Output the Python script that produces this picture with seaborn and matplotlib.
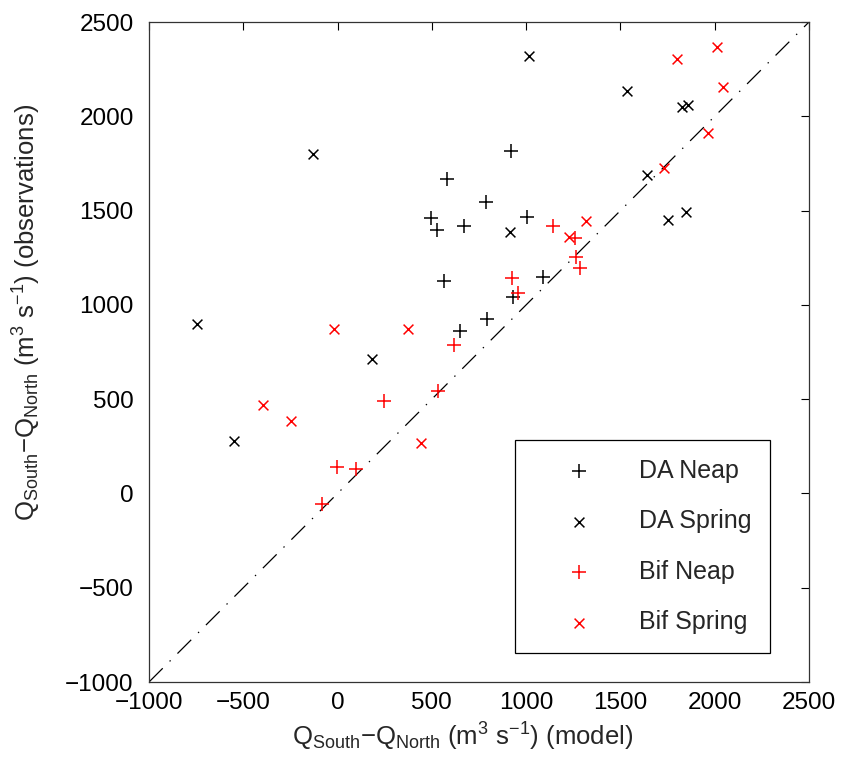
import pandas as pd
import numpy as np

import matplotlib
matplotlib.use("Agg")
import matplotlib.pyplot as plt
import seaborn as sns

# -----------------------------
# 1. DATA
# -----------------------------
da_neap_model = [918, 578, 787, 495, 525, 672, 1003, 566, 1091, 932, 791, 649]
da_neap_obs = [1818, 1666, 1547, 1459, 1397, 1420, 1464, 1128, 1146, 1043, 924, 862]

da_spring_model = [-747, 184, -551, -129, 1016, 914, 1640, 1536, 1824, 1859, 1750, 1847]
da_spring_obs = [897, 711, 277, 1800, 2320, 1385, 1687, 2134, 2051, 2060, 1450, 1491]

bif_neap_model = [-5, 100, -80, 248, 534, 615, 925, 958, 1140, 1259, 1264, 1285]
bif_neap_obs = [138, 127, -57, 492, 545, 788, 1144, 1061, 1420, 1353, 1256, 1197]

bif_spring_model = [-17, 375, -394, -249, 442, 1315, 1227, 2010, 1801, 2045, 1965, 1732]
bif_spring_obs = [871, 871, 469, 384, 266, 1443, 1358, 2369, 2304, 2157, 1910, 1727]

groups = ["DA Neap", "DA Spring", "Bif Neap", "Bif Spring"]
colors = {"DA Neap": "black", "DA Spring": "black", "Bif Neap": "red", "Bif Spring": "red"}
markers = {"DA Neap": "+", "DA Spring": "x", "Bif Neap": "+", "Bif Spring": "x"}

df = pd.concat([
    pd.DataFrame({"model": da_neap_model, "obs": da_neap_obs, "group": "DA Neap"}),
    pd.DataFrame({"model": da_spring_model, "obs": da_spring_obs, "group": "DA Spring"}),
    pd.DataFrame({"model": bif_neap_model, "obs": bif_neap_obs, "group": "Bif Neap"}),
    pd.DataFrame({"model": bif_spring_model, "obs": bif_spring_obs, "group": "Bif Spring"}),
], ignore_index=True)

# -----------------------------
# 2. STYLE
# -----------------------------
sns.set_style("white")
plt.rcParams["font.family"] = ["Liberation Sans", "DejaVu Sans"]
plt.rcParams["mathtext.fontset"] = "custom"
plt.rcParams["mathtext.rm"] = "Liberation Sans"
plt.rcParams["mathtext.it"] = "Liberation Sans:italic"
plt.rcParams["lines.scale_dashes"] = False

fig = plt.figure(figsize=(8.45, 7.64), dpi=100)
ax = fig.add_axes([0.1763, 0.1073, 0.7811, 0.8639])

# -----------------------------
# 3. PLOT
# -----------------------------
ax.axline((0, 0), slope=1, color="black", lw=0.9, dashes=(14, 7, 1, 7), zorder=1)

for g in groups:
    sub = df[df["group"] == g]
    sns.scatterplot(
        data=sub, x="model", y="obs",
        marker=markers[g], color=colors[g],
        s=95 if markers[g] == "+" else 50,
        linewidth=1.1, label=g, ax=ax, zorder=3
    )

ax.set_xlim(-1000, 2500)
ax.set_ylim(-1000, 2500)
ax.set_xticks(np.arange(-1000, 2501, 500))
ax.set_yticks(np.arange(-1000, 2501, 500))

ax.tick_params(direction="in", length=6, width=0.8, top=True, right=True,
               labelsize=17.5, colors="black")
ax.tick_params(axis="x", pad=7)
ax.tick_params(axis="y", pad=11)
for s in ax.spines.values():
    s.set_linewidth(0.9)
    s.set_color("#333333")

ax.set_xlabel(r"Q$_{\mathrm{South}}$$-$Q$_{\mathrm{North}}$ (m$^{3}$ s$^{-1}$) (model)",
              fontsize=18.5)
ax.set_ylabel(r"Q$_{\mathrm{South}}$$-$Q$_{\mathrm{North}}$ (m$^{3}$ s$^{-1}$) (observations)",
              fontsize=18.5)
ax.xaxis.set_label_coords(0.475, -0.058)
ax.yaxis.set_label_coords(-0.16, 0.56)

handles, labels = ax.get_legend_handles_labels()
leg = ax.legend(
    handles, labels,
    loc="lower right", bbox_to_anchor=(0.941, 0.044),
    borderaxespad=0, fontsize=18, frameon=True, fancybox=False,
    edgecolor="black", framealpha=1, labelspacing=1.06,
    handlelength=3.6, handletextpad=0.6, borderpad=0.75
)
leg.get_frame().set_linewidth(0.9)

plt.savefig("out.png", dpi=100)
